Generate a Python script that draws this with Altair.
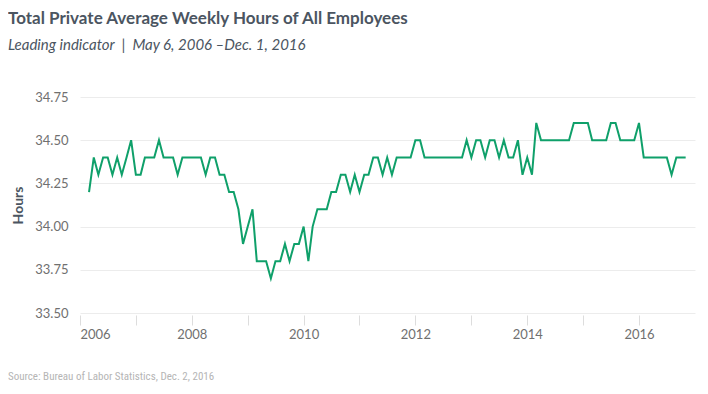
import altair as alt
import pandas as pd

# Monthly values, Mar 2006 .. Nov 2016
hours = [
    34.2, 34.4, 34.3, 34.4, 34.4, 34.3, 34.4, 34.3, 34.4, 34.5,          # 2006 Mar-Dec
    34.3, 34.3, 34.4, 34.4, 34.4, 34.5, 34.4, 34.4, 34.4, 34.3, 34.4, 34.4,  # 2007
    34.4, 34.4, 34.4, 34.3, 34.4, 34.4, 34.3, 34.3, 34.2, 34.2, 34.1, 33.9,  # 2008
    34.0, 34.1, 33.8, 33.8, 33.8, 33.7, 33.8, 33.8, 33.9, 33.8, 33.9, 33.9,  # 2009
    34.0, 33.8, 34.0, 34.1, 34.1, 34.1, 34.2, 34.2, 34.3, 34.3, 34.2, 34.3,  # 2010
    34.2, 34.3, 34.3, 34.4, 34.4, 34.3, 34.4, 34.3, 34.4, 34.4, 34.4, 34.4,  # 2011
    34.5, 34.5, 34.4, 34.4, 34.4, 34.4, 34.4, 34.4, 34.4, 34.4, 34.4, 34.5,  # 2012
    34.4, 34.5, 34.5, 34.4, 34.5, 34.5, 34.4, 34.5, 34.4, 34.4, 34.5, 34.3,  # 2013
    34.4, 34.3, 34.6, 34.5, 34.5, 34.5, 34.5, 34.5, 34.5, 34.5, 34.6, 34.6,  # 2014
    34.6, 34.6, 34.5, 34.5, 34.5, 34.5, 34.6, 34.6, 34.5, 34.5, 34.5, 34.5,  # 2015
    34.6, 34.4, 34.4, 34.4, 34.4, 34.4, 34.4, 34.3, 34.4, 34.4, 34.4,        # 2016 Jan-Nov
]
dates = pd.date_range("2006-03-01", periods=len(hours), freq="MS").strftime("%Y-%m-%d").tolist()

y_ticks = [33.5, 33.75, 34.0, 34.25, 34.5, 34.75]
x_years = list(range(2006, 2017))

title_text = "Total Private Average Weekly Hours of All Employees"
subtitle_text = "Leading indicator \u00a0|\u00a0 May 6, 2006 \u2013Dec. 1, 2016"
source_text = "Source: Bureau of Labor Statistics, Dec. 2, 2016"
y_title = "Hours"

df = pd.DataFrame({"date": dates, "hours": hours})
src_df = pd.DataFrame({"t": [source_text]})

LABEL_COLOR = "#707070"
DARK = "#4b5561"

line = alt.Chart(df).mark_line(color="#0fa06a", strokeWidth=2).encode(
    x=alt.X(
        "date:T",
        scale=alt.Scale(
            type="utc",
            domain=[alt.DateTime(year=2006, month=1, date=1, utc=True),
                    alt.DateTime(year=2017, month=1, date=1, utc=True)],
        ),
        axis=alt.Axis(
            values=[alt.DateTime(year=y, month=1, date=1, utc=True) for y in x_years],
            labelExpr="utcyear(datum.value) % 2 == 0 ? utcFormat(datum.value, '%Y') : ''",
            grid=False,
            domain=False,
            tickSize=10,
            tickColor="#dddddd",
            offset=2,
            labelPadding=3,
            labelFont="Lato",
            labelFontSize=13,
            labelColor=LABEL_COLOR,
            labelOverlap=False,
            title=None,
        ),
    ),
    y=alt.Y(
        "hours:Q",
        scale=alt.Scale(domain=[33.5, 34.75], nice=False, zero=False),
        axis=alt.Axis(
            values=y_ticks,
            format=".2f",
            ticks=False,
            domain=False,
            grid=True,
            gridColor="#ececec",
            labelPadding=12,
            labelFont="Lato",
            labelFontSize=13,
            labelColor=LABEL_COLOR,
            title=y_title,
            titleFont="Lato",
            titleFontSize=14,
            titleFontWeight="bold",
            titleColor=DARK,
            titleAngle=270,
            titleX=-62,
            titleY=108,
            titleAlign="center",
            titleBaseline="middle",
        ),
    ),
)

src = alt.Chart(src_df).mark_text(
    align="left", baseline="alphabetic",
    font="Liberation Sans Narrow, Roboto Condensed, Roboto",
    fontSize=11, color="#b5b5b5",
).encode(x=alt.value(-72), y=alt.value(283), text="t:N")

chart = alt.layer(line, src).properties(
    width=615,
    height=216,
    autosize=alt.AutoSizeParams(type="none"),
    padding={"left": 72, "top": 89, "right": 5, "bottom": 73},
    title=alt.TitleParams(
        text=title_text,
        subtitle=subtitle_text,
        anchor="start",
        frame="group",
        dx=-72,
        offset=37,
        font="Lato",
        fontSize=17,
        fontWeight="bold",
        color=DARK,
        subtitleFont="Lato",
        subtitleFontSize=15,
        subtitleFontStyle="italic",
        subtitleColor=DARK,
        subtitlePadding=10,
    ),
).configure_view(stroke=None)

chart.save("out.html", embed_options={"renderer": "svg", "actions": False})
